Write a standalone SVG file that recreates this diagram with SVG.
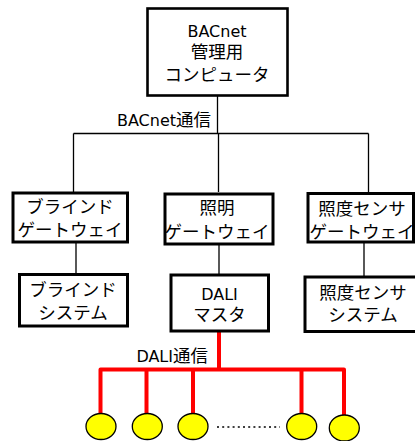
<svg xmlns="http://www.w3.org/2000/svg" width="415" height="441" viewBox="0 0 415 441">
<style>
.box{fill:#fff;stroke:#000;stroke-width:3}
.t{font-family:"DejaVu Sans","Noto Sans CJK JP",sans-serif;font-size:16px;fill:#000;text-anchor:middle}
.j{font-size:17.5px}
.ln{stroke:#000;stroke-width:1.3;fill:none}
.red{stroke:#f00;stroke-width:4;fill:none;stroke-linejoin:round}
.lamp{fill:#ff0;stroke:#000;stroke-width:1.3}
</style>
<g id="connectors">
<path class="ln" d="M217.5 96V133.5M73.5 133.5H368.5M73.5 133.5V192M218.5 133.5V192M368.5 133.5V192"/>
<path class="ln" d="M76 242V274M219 244V275M364 242V277"/>
<path class="red" d="M219 331V369.5M100.5 413V369.5H344V415M146.5 369.5V413M193 369.5V413M301.5 369.5V413"/>
<path d="M217 427H280" stroke="#000" stroke-width="1.5" stroke-dasharray="2 3.2"/>
<text class="t" x="211" y="126" style="text-anchor:end">BACnet<tspan class="j">通信</tspan></text>
<text class="t" x="208" y="362" style="text-anchor:end">DALI<tspan class="j">通信</tspan></text>
</g>
<g id="computer">
<rect class="box" x="147.5" y="8.5" width="140" height="87" style="stroke-width:2.6"/>
<text class="t" x="217" y="37">BACnet</text>
<text class="t j" x="217" y="58">管理用</text>
<text class="t j" x="217" y="81">コンピュータ</text>
</g>
<g id="blind-gw">
<rect class="box" x="13" y="193" width="114.5" height="49"/>
<text class="t j" x="70" y="213">ブラインド</text>
<text class="t j" x="70" y="236">ゲートウェイ</text>
</g>
<g id="light-gw">
<rect class="box" x="165" y="194" width="108" height="50"/>
<text class="t j" x="217" y="214">照明</text>
<text class="t j" x="217" y="238">ゲートウェイ</text>
</g>
<g id="sensor-gw">
<rect class="box" x="308" y="193.5" width="105.5" height="48.5"/>
<text class="t j" x="362" y="215">照度センサ</text>
<text class="t j" x="362" y="238">ゲートウェイ</text>
</g>
<g id="blind-sys">
<rect class="box" x="19.5" y="274.5" width="108" height="51.5"/>
<text class="t j" x="73" y="296">ブラインド</text>
<text class="t j" x="73" y="319">システム</text>
</g>
<g id="dali-master">
<rect class="box" x="171" y="275" width="97.5" height="56"/>
<text class="t" x="219.5" y="300">DALI</text>
<text class="t j" x="219.5" y="321">マスタ</text>
</g>
<g id="sensor-sys">
<rect class="box" x="305" y="277" width="115" height="54.5"/>
<text class="t j" x="363" y="299">照度センサ</text>
<text class="t j" x="363" y="321">システム</text>
</g>
<g id="lamp1"><ellipse class="lamp" cx="101" cy="426.5" rx="15" ry="13"/></g>
<g id="lamp2"><ellipse class="lamp" cx="147.3" cy="426.5" rx="15" ry="13"/></g>
<g id="lamp3"><ellipse class="lamp" cx="193" cy="426.5" rx="15" ry="13"/></g>
<g id="lamp4"><ellipse class="lamp" cx="301.7" cy="426.5" rx="15" ry="13"/></g>
<g id="lamp5"><ellipse class="lamp" cx="344.3" cy="428" rx="15" ry="13"/></g>
</svg>
